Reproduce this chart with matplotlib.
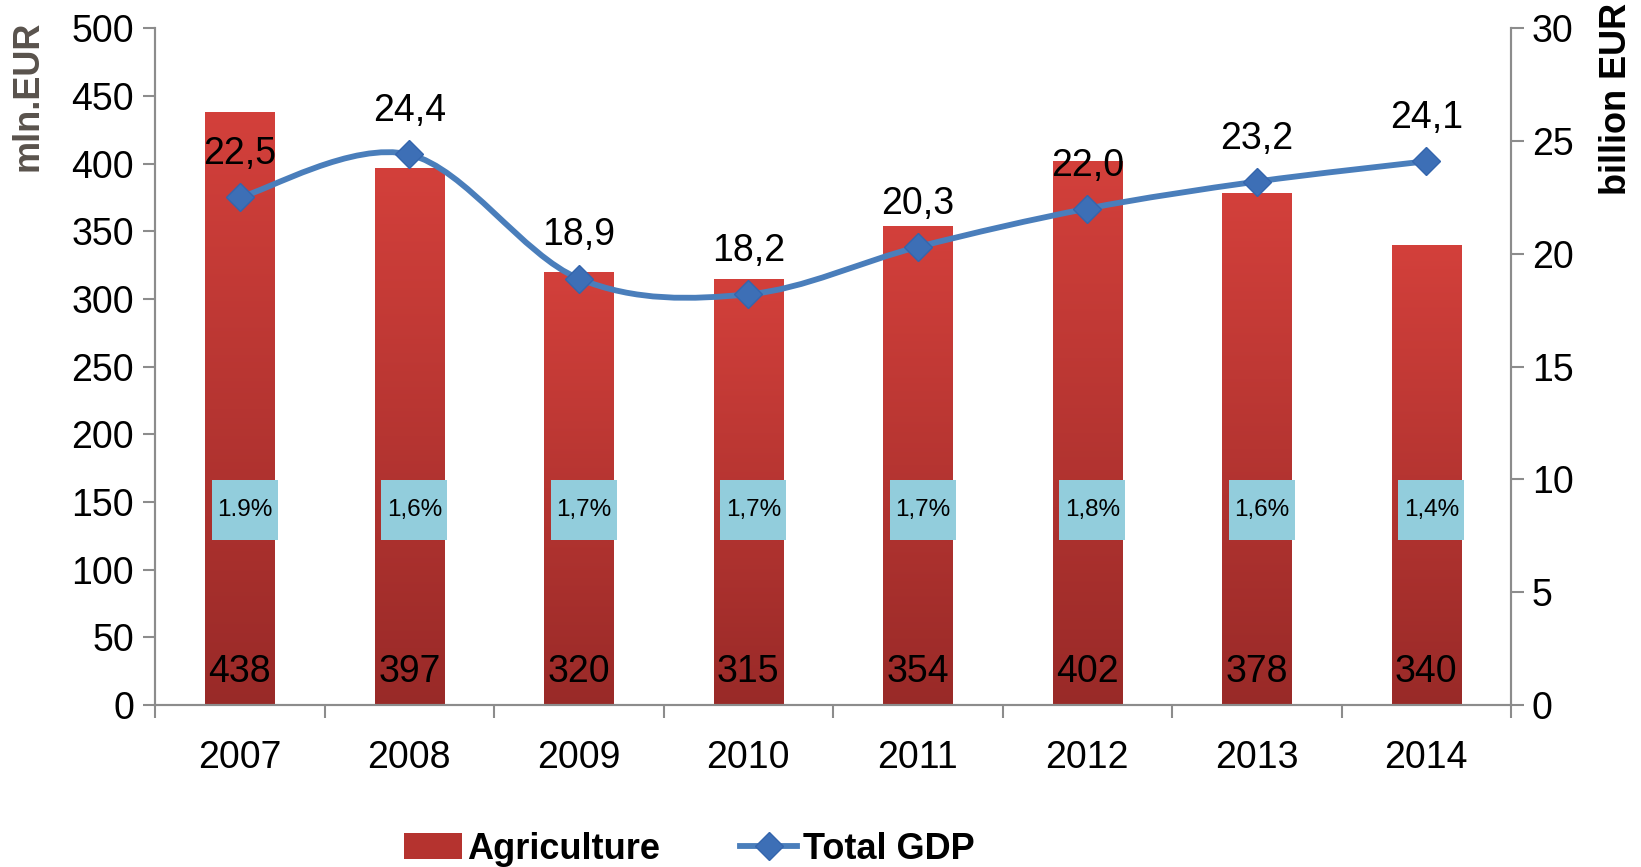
import numpy as np
import matplotlib
matplotlib.use("Agg")
import matplotlib.pyplot as plt
from matplotlib.path import Path
from matplotlib.patches import PathPatch, Rectangle
from matplotlib.lines import Line2D

plt.rcParams['font.family'] = ['Liberation Sans', 'DejaVu Sans']

years = ['2007', '2008', '2009', '2010', '2011', '2012', '2013', '2014']
agri = [438, 397, 320, 315, 354, 402, 378, 340]
gdp = [22.5, 24.4, 18.9, 18.2, 20.3, 22.0, 23.2, 24.1]
gdp_labels = ['22,5', '24,4', '18,9', '18,2', '20,3', '22,0', '23,2', '24,1']
share = ['1.9%', '1,6%', '1,7%', '1,7%', '1,7%', '1,8%', '1,6%', '1,4%']

fig = plt.figure(figsize=(16.41, 8.67), dpi=100)
ax = fig.add_axes([0.0945, 0.187, 0.8263, 0.7805])
ax2 = ax.twinx()

x = np.arange(len(years))
bw = 0.41
top_col = np.array([0xd3, 0x40, 0x3b]) / 255
bot_col = np.array([0x99, 0x2a, 0x28]) / 255

bars = ax.bar(x, agri, width=bw, color='#c0362f', zorder=2)
grad = np.linspace(0, 1, 256)[:, None, None]
img = bot_col * (1 - grad) + top_col * grad
for b in bars:
    x0, w, h = b.get_x(), b.get_width(), b.get_height()
    im = ax.imshow(img, extent=(x0, x0 + w, 0, h), origin='lower', aspect='auto', zorder=2.1)
    im.set_clip_path(b)

# share-of-GDP boxes
box_w, box_h, box_y = 0.39, 45, 144
for i, v in enumerate(agri):
    ax.text(x[i], 24, str(v), ha='center', va='center', fontsize=27, zorder=5)
    cx = x[i] + 0.03
    ax.add_patch(Rectangle((cx - box_w / 2, box_y - box_h / 2), box_w, box_h,
                           fc='#92cddc', ec='none', zorder=4))
    ax.text(cx, box_y, share[i], ha='center', va='center', fontsize=17.5, zorder=5)

# smooth line (Catmull-Rom style bezier, like Excel smoothed lines)
pts = np.column_stack([x, gdp]).astype(float)
verts = [tuple(pts[0])]
codes = [Path.MOVETO]
t = 1 / 6
for i in range(len(pts) - 1):
    p0 = pts[i - 1] if i > 0 else pts[i]
    p1, p2 = pts[i], pts[i + 1]
    p3 = pts[i + 2] if i + 2 < len(pts) else pts[i + 1]
    c1 = p1 + (p2 - p0) * t
    c2 = p2 - (p3 - p1) * t
    verts += [tuple(c1), tuple(c2), tuple(p2)]
    codes += [Path.CURVE4] * 3
ax2.add_patch(PathPatch(Path(verts, codes), fc='none', ec='#4a7ebb', lw=4.2, zorder=3,
                        capstyle='round'))
ax2.plot(x, gdp, ls='none', marker='D', ms=14, color='#3d6fb6', mec='#3465ad', zorder=4)
for i, v in enumerate(gdp):
    ax2.annotate(gdp_labels[i], (x[i], v), xytext=(0, 31), textcoords='offset points',
                 ha='center', va='center', fontsize=27)

ax.set_xlim(-0.5, len(years) - 0.5)
ax.set_ylim(0, 500)
ax2.set_ylim(0, 30)
ax.set_yticks(np.arange(0, 501, 50))
ax2.set_yticks(np.arange(0, 31, 5))
ax.set_xticks(x)
ax.set_xticklabels(years)
ax.set_xticks(np.arange(-0.5, len(years)), minor=True)

gray = '#8c8c8c'
for a in (ax, ax2):
    a.spines['top'].set_visible(False)
    for s in ('left', 'right', 'bottom'):
        a.spines[s].set_color(gray)
        a.spines[s].set_linewidth(1.5)
ax.tick_params(axis='y', labelsize=27, length=9, width=1.5, color=gray, pad=6)
ax2.tick_params(axis='y', labelsize=27, length=9, width=1.5, color=gray, pad=6)
ax.tick_params(axis='x', which='major', length=0, labelsize=27, pad=25)
ax.tick_params(axis='x', which='minor', length=9, width=1.5, color=gray)

ax.set_ylabel('mln.EUR', fontsize=26, fontweight='bold', color='#59524c')
ax2.set_ylabel('billion EUR', fontsize=26, fontweight='bold')
ax.yaxis.set_label_coords(-0.081, 0.90)
ax2.yaxis.set_label_coords(1.065, 0.895)

handles = [Rectangle((0, 0), 1, 1, fc='#b5332f', ec='none'),
           Line2D([], [], color='#4a7ebb', lw=4.2, marker='D', ms=14, mfc='#3d6fb6', mec='#3465ad')]
fig.legend(handles, ['Agriculture', 'Total GDP'], loc='lower center', bbox_to_anchor=(0.42, -0.037),
           ncol=2, frameon=False, prop={'size': 26, 'weight': 'bold'}, handlelength=1.6,
           handletextpad=0.15, columnspacing=2.2)

fig.savefig('out.png', dpi=100)
